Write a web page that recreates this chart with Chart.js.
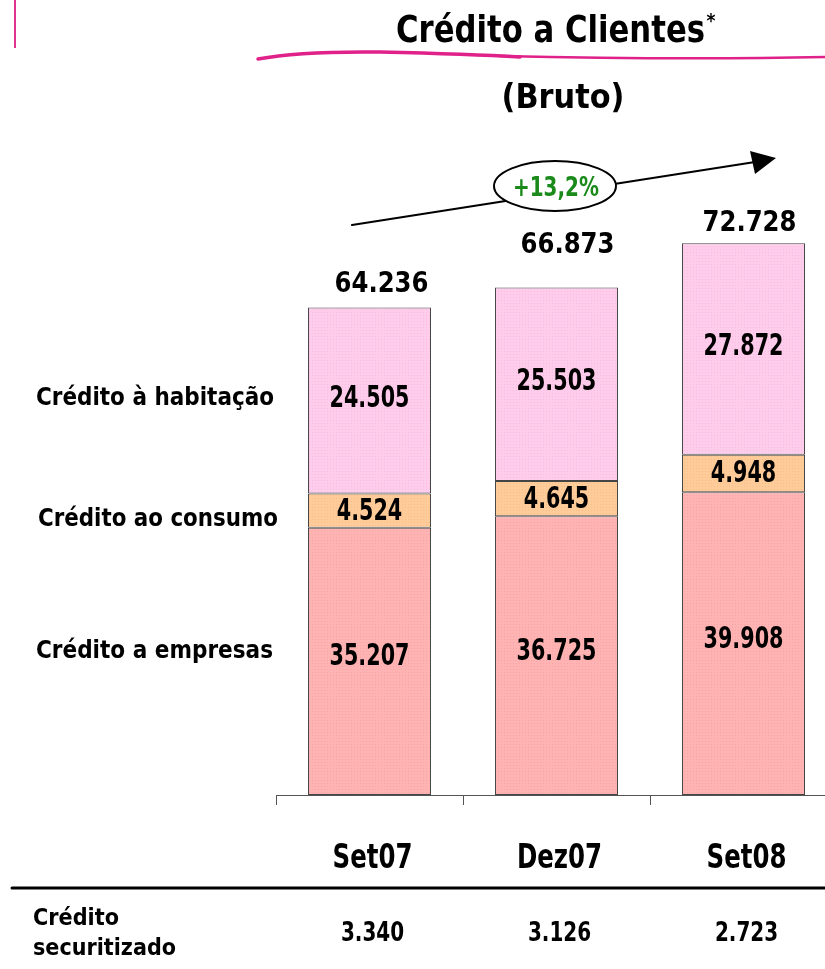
<!DOCTYPE html>
<html>
<head>
<meta charset="utf-8">
<script src="https://cdn.jsdelivr.net/npm/chart.js@4.4.0/dist/chart.umd.min.js"></script>
<style>
  html, body { margin: 0; padding: 0; background: #fff; overflow: hidden; }
  #wrap { width: 840px; height: 969px; }
</style>
</head>
<body>
<div id="wrap"><canvas id="myChart" width="840" height="969"></canvas></div>
<script>
const categories = ["Set07", "Dez07", "Set08"];
const empresas = [35207, 36725, 39908];
const consumo = [4524, 4645, 4948];
const habitacao = [24505, 25503, 27872];
const totais = [64236, 66873, 72728];
const securitizado = [3340, 3126, 2723];
const seriesLabels = ["Crédito a empresas", "Crédito ao consumo", "Crédito à habitação"];
const crescimento = "+13,2%";

const FONT = "'DejaVu Sans', sans-serif";

function fmt(v) {
  return v.toLocaleString('de-DE');
}

// draws bold text squeezed horizontally (sx) so the wide font looks narrow
function txt(c, text, x, y, size, sx, align, base) {
  c.save();
  c.font = 'bold ' + size + 'px ' + FONT;
  c.textAlign = align || 'center';
  c.textBaseline = base || 'alphabetic';
  c.translate(x, y);
  c.scale(sx, 1);
  c.fillText(text, 0, 0);
  c.restore();
}

// same, but to an exact width
function txtW(c, text, x, y, size, width, align, base) {
  c.font = 'bold ' + size + 'px ' + FONT;
  const w = c.measureText(text).width;
  txt(c, text, x, y, size, width / w, align, base);
}

function makePattern(base, dot) {
  const c = document.createElement('canvas');
  c.width = 3; c.height = 3;
  const g = c.getContext('2d');
  g.fillStyle = base;
  g.fillRect(0, 0, 3, 3);
  g.fillStyle = dot;
  g.fillRect(0, 0, 1, 1);
  return g.createPattern(c, 'repeat');
}

const ctx = document.getElementById('myChart').getContext('2d');

const decor = {
  id: 'decor',
  afterDraw(chart) {
    const c = chart.ctx;
    const x = chart.scales.x;
    const y = chart.scales.y;
    c.save();

    // left magenta bar
    c.strokeStyle = '#E0338F';
    c.lineWidth = 2;
    c.beginPath();
    c.moveTo(15, 0); c.lineTo(15, 48);
    c.stroke();

    // title
    c.fillStyle = '#000';
    txtW(c, 'Crédito a Clientes', 396, 42, 38, 309, 'left');
    txt(c, '*', 711, 27, 19, 0.9, 'center');

    // magenta underline
    c.strokeStyle = '#E0218A';
    c.lineCap = 'round';
    c.lineWidth = 3.5;
    c.beginPath();
    c.moveTo(258, 59);
    c.quadraticCurveTo(300, 51, 380, 52);
    c.quadraticCurveTo(470, 54, 520, 57);
    c.stroke();
    c.lineWidth = 2.5;
    c.beginPath();
    c.moveTo(500, 56);
    c.quadraticCurveTo(680, 60, 825, 57);
    c.stroke();

    // subtitle
    txtW(c, '(Bruto)', 563, 108, 33, 123, 'center');

    // growth arrow
    c.strokeStyle = '#000';
    c.lineWidth = 2;
    c.beginPath();
    c.moveTo(352, 225);
    c.lineTo(755, 162);
    c.stroke();
    c.fillStyle = '#000';
    c.beginPath();
    c.moveTo(776, 158);
    c.lineTo(750, 151);
    c.lineTo(755, 174);
    c.closePath();
    c.fill();

    // ellipse with growth
    c.beginPath();
    c.ellipse(555, 186, 61, 25, 0, 0, Math.PI * 2);
    c.fillStyle = '#fff';
    c.fill();
    c.stroke();
    c.fillStyle = '#1A8A1A';
    txtW(c, crescimento, 556, 196, 26, 86, 'center');

    // totals (hand placed above each bar in the original)
    c.fillStyle = '#000';
    const totDx = [12, 11, 6];
    const totDy = [16, 35, 12];
    totais.forEach((t, i) => {
      const px = x.getPixelForValue(i);
      txtW(c, fmt(t), px + totDx[i], y.getPixelForValue(t) - totDy[i], 29, 94, 'center');
    });

    // segment labels
    const segDy = [-7, -2, -5];
    chart.data.datasets.forEach((ds, di) => {
      const meta = chart.getDatasetMeta(di);
      meta.data.forEach((bar, i) => {
        const mid = (bar.y + bar.base) / 2;
        txt(c, fmt(ds.data[i]), bar.x, mid + segDy[di] + 11, 30, 0.69, 'center');
      });
    });

    // series labels on the left
    const lab = [[273, 658], [278, 526], [274, 405]];
    seriesLabels.forEach((s, i) => {
      txtW(c, s, lab[i][0], lab[i][1], 24, lab[i][0] - (i === 1 ? 38 : 36), 'right');
    });

    // category labels
    categories.forEach((cat, i) => {
      txt(c, cat, x.getPixelForValue(i) + 3, 868, 34, 0.72, 'center');
    });

    // bottom table
    c.strokeStyle = '#000';
    c.lineWidth = 3;
    c.beginPath();
    c.moveTo(12, 888); c.lineTo(840, 888);
    c.stroke();
    txtW(c, 'Crédito', 33, 925, 23, 86, 'left');
    txtW(c, 'securitizado', 33, 955, 23, 143, 'left');
    securitizado.forEach((v, i) => {
      txt(c, fmt(v), x.getPixelForValue(i) + 3, 941, 27, 0.74, 'center');
    });

    c.restore();
  }
};

new Chart(ctx, {
  type: 'bar',
  data: {
    labels: categories,
    datasets: [
      {
        label: seriesLabels[0],
        data: empresas,
        backgroundColor: makePattern('#FFB3B3', '#F6A6A9'),
        borderColor: '#444',
        borderWidth: 1,
        borderSkipped: false
      },
      {
        label: seriesLabels[1],
        data: consumo,
        backgroundColor: makePattern('#FFCC99', '#F5C08E'),
        borderColor: '#444',
        borderWidth: 1,
        borderSkipped: false
      },
      {
        label: seriesLabels[2],
        data: habitacao,
        backgroundColor: makePattern('#FFCCEB', '#F3BEDF'),
        borderColor: '#444',
        borderWidth: 1,
        borderSkipped: false
      }
    ]
  },
  options: {
    responsive: false,
    animation: false,
    layout: { padding: { left: 276, right: 3, top: 188, bottom: 97 } },
    plugins: {
      legend: { display: false },
      tooltip: { enabled: false },
      title: { display: false }
    },
    datasets: {
      bar: { categoryPercentage: 1.0, barPercentage: 0.658 }
    },
    scales: {
      x: {
        stacked: true,
        border: { display: true, color: '#555', width: 1 },
        grid: {
          display: true,
          offset: true,
          drawOnChartArea: false,
          drawTicks: true,
          tickLength: 10,
          tickColor: '#555',
          tickWidth: 1
        },
        ticks: { display: false },
        afterFit(scale) { scale.height = 77; }
      },
      y: {
        stacked: true,
        display: false,
        min: 0,
        max: 80000
      }
    }
  },
  plugins: [decor]
});
</script>
</body>
</html>
